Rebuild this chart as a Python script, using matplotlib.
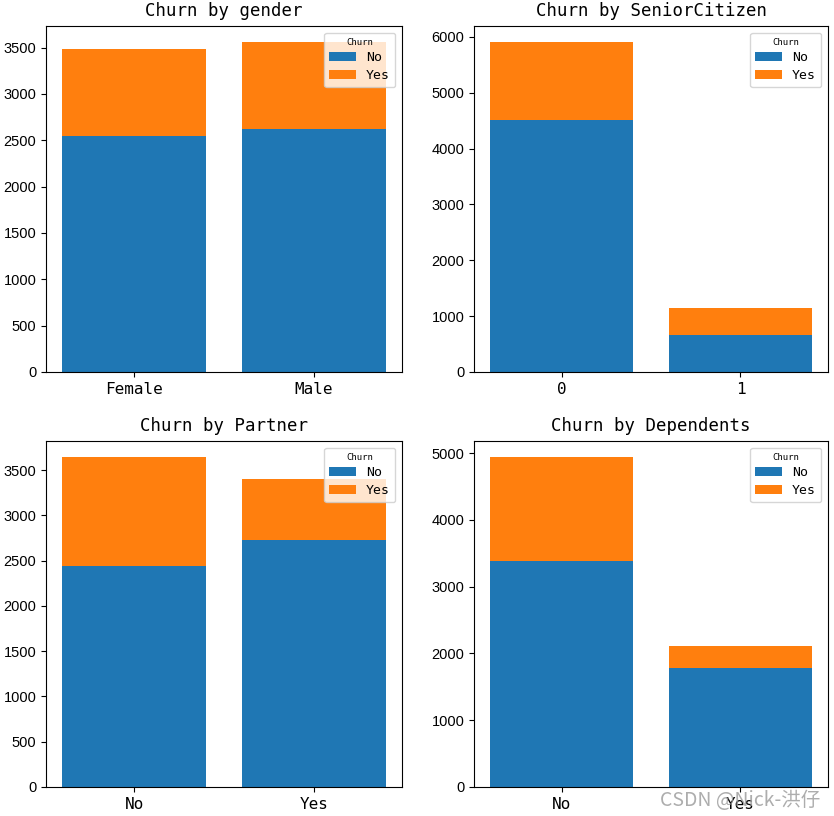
import matplotlib
matplotlib.use("Agg")
from matplotlib import pyplot as plt

## Données (Telco churn)
cols = ["gender", "SeniorCitizen", "Partner", "Dependents"]
cats = {
    "gender": ["Female", "Male"],
    "SeniorCitizen": ["0", "1"],
    "Partner": ["No", "Yes"],
    "Dependents": ["No", "Yes"],
}
churn_no = {
    "gender": [2549, 2625],
    "SeniorCitizen": [4508, 666],
    "Partner": [2441, 2733],
    "Dependents": [3390, 1784],
}
churn_yes = {
    "gender": [939, 930],
    "SeniorCitizen": [1393, 476],
    "Partner": [1200, 669],
    "Dependents": [1543, 326],
}

mono = ["DejaVu Sans Mono", "Noto Sans CJK SC"]
plt.rcParams["font.family"] = ["Liberation Sans", "DejaVu Sans"]

W, H = 834, 816
fig = plt.figure(figsize=(W / 100, H / 100), dpi=100)

# positions des axes en pixels (gauche, haut, droite, bas)
boxes = [(46, 26, 402, 372), (474, 26, 828, 372),
         (46, 441, 402, 787), (474, 441, 828, 787)]

for col, (l, t, r, b) in zip(cols, boxes):
    ax = fig.add_axes([l / W, 1 - b / H, (r - l) / W, (b - t) / H])
    x = cats[col]
    ax.bar(x, churn_no[col], label="No", color="#1f77b4")
    ax.bar(x, churn_yes[col], bottom=churn_no[col], label="Yes", color="#ff7f0e")
    ax.set_title("Churn by %s" % col, fontsize=12.5, family=mono, pad=7)
    ax.tick_params(axis="x", labelsize=11.5)
    ax.tick_params(axis="y", labelsize=10.5)
    for lab in ax.get_xticklabels():
        lab.set_family(mono)
    leg = ax.legend(title="Churn", loc="upper right", fontsize=9.5,
                    title_fontproperties={"size": 6.5, "family": mono},
                    labelspacing=0.35)
    for txt in leg.get_texts():
        txt.set_family(mono)

fig.text(0.984, 0.006, "CSDN @Nick-洪仔", ha="right", va="bottom", fontsize=14,
         color="#999999", alpha=0.8, family=["Noto Sans CJK SC", "DejaVu Sans"])

plt.savefig("out.png", dpi=100)
